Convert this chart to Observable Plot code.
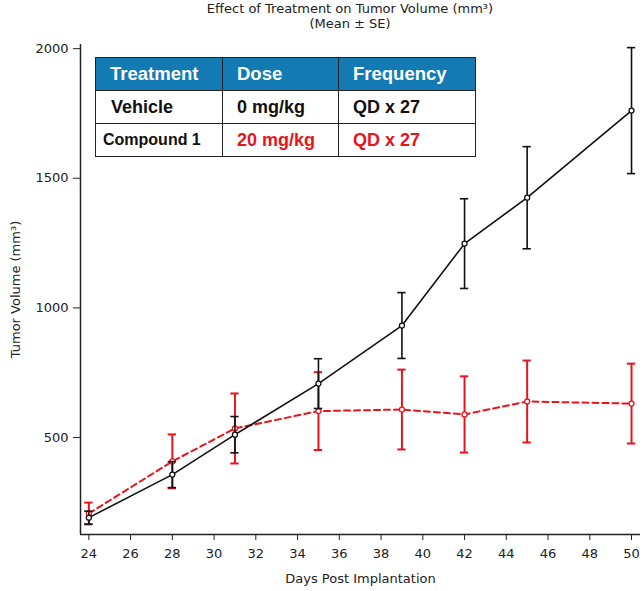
<!DOCTYPE html>
<html>
<head>
<meta charset="utf-8">
<script src="https://cdn.jsdelivr.net/npm/d3@7"></script>
<script src="https://cdn.jsdelivr.net/npm/@observablehq/plot@0.6"></script>
<style>
  body { margin: 0; background: #fff; }
  #wrap { position: relative; width: 644px; height: 591px; overflow: hidden; background: #fff; }
  #title { position: absolute; left: 0; top: 1px; width: 700px; text-align: center;
           font-family: "DejaVu Sans", sans-serif; font-size: 13px; line-height: 15px; color: #222; }
  #chart { position: absolute; left: 0; top: 32px; }
  #tbl { position: absolute; left: 95px; top: 57px; border-collapse: collapse;
         font-family: "Liberation Sans", Arial, sans-serif; font-weight: bold; }
  #tbl td, #tbl th { border: 1.5px solid #222; padding: 0 0 0 14px; text-align: left; height: 32px; }
  #tbl th { background: #137ab3; color: #fff; font-size: 18.5px; }
  #tbl td { font-size: 18px; color: #111; }
  #tbl td.red { color: #e8141b; }
</style>
</head>
<body>
<div id="wrap">
  <div id="title">Effect of Treatment on Tumor Volume (mm³)<br>(Mean ± SE)</div>
  <div id="chart"></div>
  <table id="tbl"></table>
</div>
<script>
const days = [24, 28, 31, 35, 39, 42, 45, 50];
const vehicleMean = [191, 357, 511, 708, 932, 1248, 1425, 1761];
const vehicleSE = [25, 50, 70, 96, 127, 173, 197, 243];
const compoundMean = [207, 408, 535, 602, 608, 589, 639, 631];
const compoundSE = [42, 104, 135, 150, 154, 147, 158, 154];
const xTicks = [24, 26, 28, 30, 32, 34, 36, 38, 40, 42, 44, 46, 48, 50];
const yTicks = [500, 1000, 1500, 2000];
const tableHeader = ["Treatment", "Dose", "Frequency"];
const treatments = ["Vehicle", "Compound 1"];
const doses = ["0 mg/kg", "20 mg/kg"];
const frequencies = ["QD x 27", "QD x 27"];

const vehicle = days.map((d, i) => ({day: d, mean: vehicleMean[i], lo: vehicleMean[i] - vehicleSE[i], hi: vehicleMean[i] + vehicleSE[i]}));
const compound = days.map((d, i) => ({day: d, mean: compoundMean[i], lo: compoundMean[i] - compoundSE[i], hi: compoundMean[i] + compoundSE[i]}));

const red = "#e8141b";
const black = "#111";
const capHalf = 0.2;

function series(data, color, dash, sw) {
  return [
    Plot.ruleX(data, {x: "day", y1: "lo", y2: "hi", stroke: color, strokeWidth: sw}),
    Plot.ruleY(data, {y: "hi", x1: d => d.day - capHalf, x2: d => d.day + capHalf, stroke: color, strokeWidth: sw}),
    Plot.ruleY(data, {y: "lo", x1: d => d.day - capHalf, x2: d => d.day + capHalf, stroke: color, strokeWidth: sw}),
    Plot.line(data, {x: "day", y: "mean", stroke: color, strokeWidth: sw, strokeDasharray: dash}),
    Plot.dot(data, {x: "day", y: "mean", r: 2.5, stroke: color, fill: "#fff", strokeWidth: 1.3})
  ];
}

const xDomain = [23.6, 50.43];
const yDomain = [126, 2016];

const chart = Plot.plot({
  width: 644,
  height: 559,
  marginLeft: 80,
  marginRight: 4,
  marginTop: 12,
  marginBottom: 57,
  style: {fontFamily: "DejaVu Sans, sans-serif", fontSize: "13px", color: "#222", background: "#fff"},
  x: {domain: xDomain, ticks: xTicks, tickFormat: d => String(d), tickSize: 6, tickPadding: 8, label: "Days Post Implantation", labelAnchor: "center", labelOffset: 48, labelArrow: "none"},
  y: {domain: yDomain, ticks: yTicks, tickFormat: d => String(d), tickSize: 7, tickPadding: 5, label: "Tumor Volume (mm³)", labelAnchor: "center", labelOffset: 70, labelArrow: "none"},
  marks: [
    Plot.ruleX([xDomain[0]], {stroke: "#222", strokeWidth: 1.5}),
    Plot.ruleY([yDomain[0]], {stroke: "#222", strokeWidth: 1.5}),
    ...series(compound, red, "6,4", 2),
    ...series(vehicle, black, null, 1.6)
  ]
});
document.getElementById("chart").appendChild(chart);

const tbl = document.getElementById("tbl");
const hr = document.createElement("tr");
tableHeader.forEach(h => { const th = document.createElement("th"); th.textContent = h; hr.appendChild(th); });
tbl.appendChild(hr);
treatments.forEach((t, i) => {
  const tr = document.createElement("tr");
  [t, doses[i], frequencies[i]].forEach((v, j) => {
    const td = document.createElement("td");
    td.textContent = v;
    if (i === 1 && j > 0) td.className = "red";
    if (i === 1 && j === 0) { td.style.fontSize = "16px"; td.style.paddingLeft = "7px"; }
    if (i === 0 && j === 0) td.style.paddingLeft = "15px";
    tr.appendChild(td);
  });
  tbl.appendChild(tr);
});
const widths = [126, 115, 136];
hr.querySelectorAll("th").forEach((th, j) => th.style.width = (widths[j] - 14) + "px");
</script>
</body>
</html>
